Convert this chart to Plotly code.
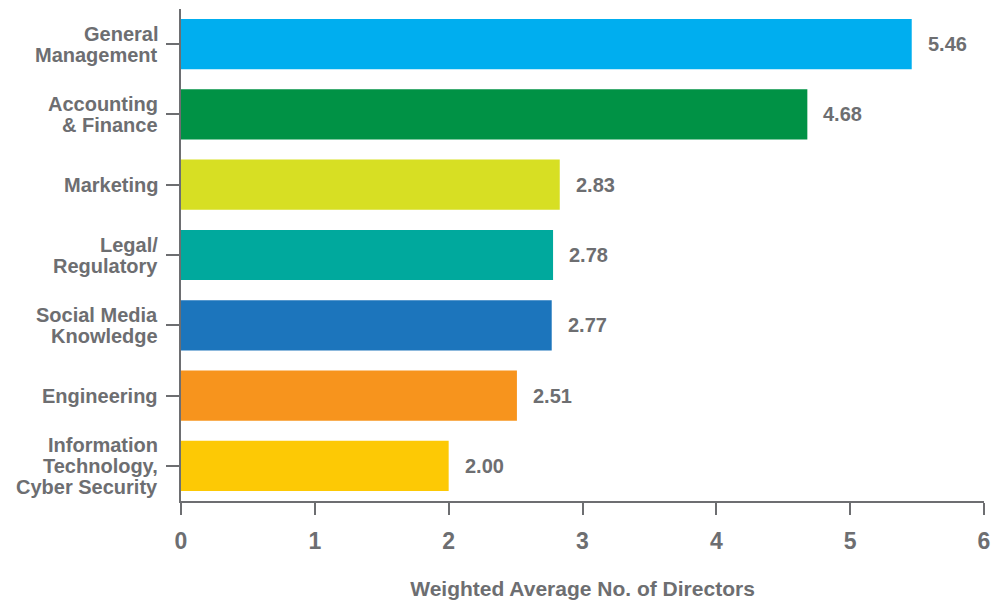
import plotly.graph_objects as go

categories = ["General<br>Management", "Accounting<br>& Finance", "Marketing", "Legal/<br>Regulatory",
              "Social Media<br>Knowledge", "Engineering", "Information<br>Technology,<br>Cyber Security"]
values = [5.46, 4.68, 2.83, 2.78, 2.77, 2.51, 2.00]
colors = ["#00aeef", "#009245", "#d7df23", "#00a99d", "#1c75bc", "#f7941d", "#fdc905"]
x_ticks = [0, 1, 2, 3, 4, 5, 6]

GRAY = "#6d6e71"
FONT = "Liberation Sans, Arial, sans-serif"
LINE_H = 21

fig = go.Figure(go.Bar(
    y=categories, x=values, orientation="h",
    marker=dict(color=colors, line=dict(width=0)),
    width=0.714, hoverinfo="skip",
))

for c, v in zip(categories, values):
    fig.add_annotation(x=v, y=c, text=f"<b>{v:.2f}</b>", showarrow=False,
                       xanchor="left", xshift=14,
                       font=dict(family=FONT, size=20, color=GRAY))
    lines = c.split("<br>")
    n = len(lines)
    for i, ln in enumerate(lines):
        fig.add_annotation(x=0, y=c, xref="x", text=f"<b>{ln}</b>", showarrow=False,
                           xanchor="right", yanchor="middle", xshift=-21,
                           yshift=((n - 1) / 2 - i) * LINE_H,
                           font=dict(family=FONT, size=20, color=GRAY))

fig.update_layout(
    width=992, height=602,
    margin=dict(l=181, r=8, t=9, b=101),
    paper_bgcolor="white", plot_bgcolor="white",
    showlegend=False,
    font=dict(family=FONT, color=GRAY),
    xaxis=dict(range=[0, 6], tickvals=x_ticks, ticktext=[f"<b>{t}</b>" for t in x_ticks],
               showgrid=False, zeroline=False, automargin=False,
               showline=True, linecolor=GRAY, linewidth=2,
               ticks="outside", ticklen=12, tickwidth=2, tickcolor=GRAY,
               tickfont=dict(family=FONT, size=23, color=GRAY),
               ticklabelstandoff=6,
               title=dict(text="<b>Weighted Average No. of Directors</b>",
                          font=dict(family=FONT, size=21, color=GRAY), standoff=29)),
    yaxis=dict(autorange="reversed", showgrid=False, zeroline=False, automargin=False,
               showline=True, linecolor=GRAY, linewidth=2,
               ticks="outside", ticklen=13, tickwidth=2, tickcolor=GRAY,
               showticklabels=False),
)

fig.write_html("out.html", config={"displayModeBar": False},
               post_script="document.body.style.margin='0';")
